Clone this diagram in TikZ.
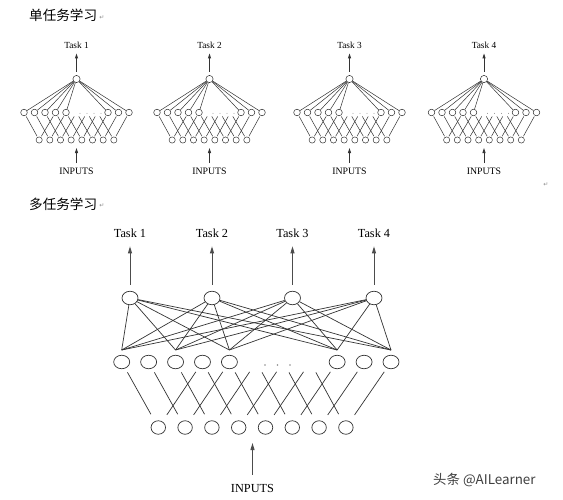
\documentclass[tikz,border=0pt]{standalone}
\usepackage{fontspec}
\setmainfont{Liberation Serif}
\newfontfamily\cjkfont{Noto Sans CJK SC}
\newfontfamily\symfont{DejaVu Sans}
\usetikzlibrary{arrows.meta,shapes.geometric}
\newcommand{\singlenet}[3]{%
\begin{scope}[shift={(#2,0)}]
  \node[stxt] (#1t) at (0,45.5) {Task #3};
  \node[sout] (#1o) at (0,79) {};
  \foreach \j in {0,1,2,3,4,8,9,10} \node[sn] (#1h\j) at ({-52.5+10.5*\j},112.5) {};
  \foreach \j in {5,6,7} \node[sn,draw=none] (#1h\j) at ({-52.5+10.5*\j},112.5) {};
  \foreach \i in {0,...,7} \node[sin] (#1i\i) at ({-37.35+10.67*\i},140) {};
  \foreach \d in {0,1,2,3} \fill[black!45] ({3.5+7*\d},113.3) circle (0.45pt);
  \foreach \i in {0,...,7} {
    \pgfmathtruncatemacro\k{\i+3}
    \draw[sl,shorten >=1pt,shorten <=1pt] (#1i\i) -- (#1h\i);
    \draw[sl,shorten >=1pt,shorten <=1pt] (#1i\i) -- (#1h\k);
  }
  \foreach \j in {0,1,2,3,4,8,9,10} \draw[sl] (#1o) -- (#1h\j);
  \draw[sarr,shorten <=3.5pt,shorten >=4.4pt] (#1o) -- (#1t);
  \coordinate (#1ia) at (0,148);
  \node[sinp] (#1in) at (0,171) {INPUTS};
  \draw[sarr,shorten <=4.5pt] (#1in) -- (#1ia);
\end{scope}}
\begin{document}
\begin{tikzpicture}[x=1pt,y=-1pt,
  sout/.style={circle,draw=black!80,line width=0.5pt,inner sep=0pt,minimum size=7.2pt},
  sn/.style={circle,draw=black!80,line width=0.5pt,inner sep=0pt,minimum size=6.6pt},
  sin/.style={circle,draw=black!80,line width=0.5pt,inner sep=0pt,minimum size=6.2pt},
  sl/.style={draw=black!80,line width=0.5pt},
  sarr/.style={draw=black!80,line width=0.8pt,-{Triangle[length=5pt,width=3pt]}},
  stxt/.style={inner sep=0pt,font=\fontsize{9.3}{10}\selectfont},
  sinp/.style={inner sep=0pt,font=\fontsize{9.8}{11}\selectfont},
  mn/.style={ellipse,draw=black!80,line width=0.7pt,inner sep=0pt,minimum width=16pt,minimum height=13.5pt},
  minp/.style={ellipse,draw=black!80,line width=0.7pt,inner sep=0pt,minimum width=14.5pt,minimum height=13.5pt},
  ml/.style={draw=black!80,line width=0.7pt},
  marr/.style={draw=black!70,line width=1pt,-{Triangle[length=7pt,width=4pt]}},
  mtxt/.style={inner sep=0pt,font=\fontsize{12.3}{14}\selectfont},
  cjktxt/.style={anchor=west,inner sep=0pt,font=\cjkfont\fontsize{13.6}{15}\selectfont},
  ret/.style={inner sep=0pt,text=black!45,font=\symfont\fontsize{6}{7}\selectfont},
]
\fill[white] (0,0) rectangle (563,499);
\useasboundingbox (0,0) rectangle (563,499);

% titles
\node[cjktxt] (title1) at (29,15.5) {单任务学习};
\node[ret] (ret1) at (102,17.5) {↵};
\node[cjktxt] (title2) at (29,204) {多任务学习};
\node[ret] (ret2) at (102,206) {↵};
\node[ret] (ret3) at (546,185) {↵};

% single-task networks
\singlenet{a}{76.5}{1}
\singlenet{b}{209.5}{2}
\singlenet{c}{349.5}{3}
\singlenet{d}{484}{4}

% multi-task network
\foreach \t/\x in {1/130,2/212,3/292.5,4/374} {
  \node[mtxt] (mt\t) at (\x,233.3) {Task \t};
  \node[mn] (mk\t) at (\x,298) {};
  \draw[marr,shorten <=6pt,shorten >=8.5pt] (mk\t) -- (mt\t);
}
\foreach \j in {0,1,2,3,4,8,9,10} \node[mn] (mh\j) at ({121.7+26.93*\j},362) {};
\foreach \j in {5,6,7} \node[mn,draw=none] (mh\j) at ({121.7+26.93*\j},362) {};
\foreach \j in {0,2,4,8,10} \coordinate (mc\j) at ({121.7+26.93*\j},350);
\foreach \i in {0,...,7} \node[minp] (mi\i) at ({158.3+26.8*\i},427.5) {};
\foreach \t in {1,...,4} \foreach \j in {0,2,4,8,10} \draw[ml] (mk\t) -- (mc\j);
\foreach \i in {0,...,7} {
  \pgfmathtruncatemacro\k{\i+3}
  \draw[ml,shorten <=8pt,shorten >=4.5pt] (mi\i) -- (mh\i);
  \draw[ml,shorten <=8pt,shorten >=4.5pt] (mi\i) -- (mh\k);
}
\foreach \x in {265,277.5,290} \fill[black!45] (\x,365) circle (0.8pt);
\node[mtxt] (min) at (252.5,488) {INPUTS};
\coordinate (mia) at (252.5,443);
\draw[marr,shorten <=9pt] (min) -- (mia);

% watermark
\node[anchor=west,inner sep=0pt,text=black!75,font=\cjkfont\fontsize{13.4}{15}\selectfont] (wm) at (433,480) {头条 @AILearner};
\end{tikzpicture}
\end{document}
